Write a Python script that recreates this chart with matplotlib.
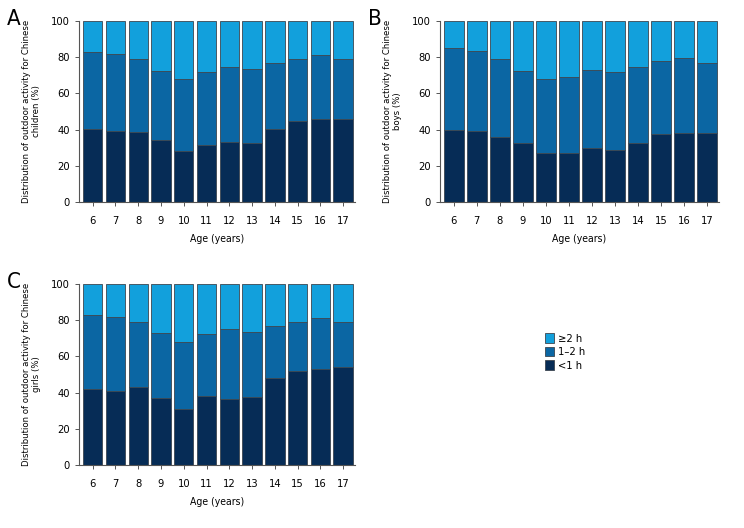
import numpy as np
import matplotlib.pyplot as plt

ages = ['6', '7', '8', '9', '10', '11', '12', '13', '14', '15', '16', '17']

# cumulative tops: (<1 h, <1 h + 1-2 h), top is always 100
children_lt1 = [40.4, 39.0, 38.6, 34.0, 28.3, 31.6, 33.1, 32.5, 40.4, 45.0, 46.1, 46.1]
children_1to2 = [42.3, 42.6, 40.3, 38.2, 39.5, 40.3, 41.3, 40.8, 36.3, 34.2, 35.0, 32.8]
boys_lt1 = [39.7, 39.0, 36.0, 32.7, 27.2, 27.2, 29.8, 28.7, 32.7, 37.3, 38.2, 38.2]
boys_1to2 = [45.2, 44.5, 42.9, 39.5, 40.6, 42.1, 43.0, 43.2, 41.9, 40.5, 41.2, 38.5]
girls_lt1 = [41.9, 41.0, 43.0, 36.8, 30.9, 37.9, 36.4, 37.3, 48.0, 52.2, 52.9, 53.9]
girls_1to2 = [41.2, 41.0, 36.0, 36.0, 37.3, 34.2, 38.6, 36.0, 29.0, 27.0, 28.5, 25.3]

panels = [
    ('A', 'children', children_lt1, children_1to2, [79, 21, 355, 202]),
    ('B', 'boys', boys_lt1, boys_1to2, [440, 21, 719, 202]),
    ('C', 'girls', girls_lt1, girls_1to2, [79, 284, 355, 465]),
]

c_dark = '#062c56'
c_mid = '#0b66a3'
c_light = '#12a0dc'
edge = '#3c4650'
W, H = 744, 528
plt.rcParams['font.family'] = ['DejaVu Sans']
plt.rcParams['font.stretch'] = 'condensed'

fig = plt.figure(figsize=(W / 100, H / 100), dpi=100)

for letter, group, lt1, mid, (x0, y0, x1, y1) in panels:
    ax = fig.add_axes([x0 / W, 1 - y1 / H, (x1 - x0) / W, (y1 - y0) / H])
    x = np.arange(len(ages))
    lt1 = np.array(lt1)
    mid = np.array(mid)
    top = 100 - lt1 - mid
    kw = dict(width=0.85, edgecolor=edge, linewidth=0.6)
    ax.bar(x, lt1, color=c_dark, label='<1 h', **kw)
    ax.bar(x, mid, bottom=lt1, color=c_mid, label='1–2 h', **kw)
    ax.bar(x, top, bottom=lt1 + mid, color=c_light, label='≥2 h', **kw)
    ax.set_xlim(-0.6, 11.52)
    ax.set_ylim(0, 100)
    ax.set_xticks(x)
    ax.set_xticklabels(ages)
    ax.set_yticks([0, 20, 40, 60, 80, 100])
    ax.tick_params(labelsize=8, length=3, color='#555555', width=0.7)
    ax.tick_params(axis='x', pad=7)
    for s in ['top', 'right']:
        ax.spines[s].set_visible(False)
    for s in ['left', 'bottom']:
        ax.spines[s].set_color('#555555')
        ax.spines[s].set_linewidth(0.8)
    ax.set_xlabel('Age (years)', fontsize=7.5, labelpad=6)
    ax.set_ylabel('Distribution of outdoor activity for Chinese\n' + group + ' (%)',
                  fontsize=6.8, labelpad=7)
    fig.text((x0 - 65) / W, 1 - (y0 - 2) / H, letter, fontsize=16, va='center', ha='center')

handles, labels = ax.get_legend_handles_labels()
fig.legend(handles[::-1], labels[::-1], loc='upper left', bbox_to_anchor=(535 / W, 1 - 323 / H),
           frameon=False, fontsize=8, handlelength=0.8, handleheight=1.0,
           handletextpad=0.4, labelspacing=0.25)

fig.savefig('out.png', dpi=100)
